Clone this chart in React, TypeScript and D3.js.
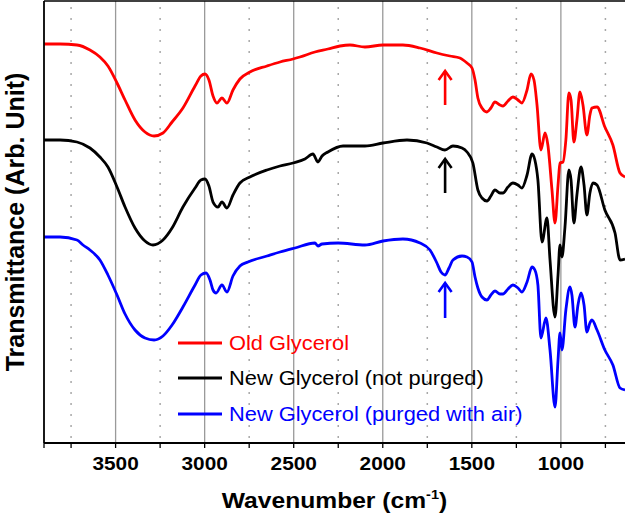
import React from "react";
import * as d3 from "d3";

// ---- data (wavenumber in cm-1, transmittance in arbitrary units) ----
const wnRed = [3902, 3812, 3717, 3644, 3588, 3543, 3492, 3447, 3391, 3335, 3284, 3234, 3183, 3122, 3054, 3021, 2998, 2976, 2953, 2931, 2903, 2875, 2841, 2802, 2746, 2650, 2577, 2504, 2465, 2381, 2308, 2240, 2184, 2100, 1999, 1887, 1791, 1696, 1623, 1567, 1527, 1499, 1482, 1466, 1443, 1415, 1393, 1370, 1342, 1325, 1297, 1269, 1241, 1219, 1190, 1168, 1151, 1134, 1112, 1089, 1073, 1050, 1033, 1016, 1005, 988, 972, 955, 943, 927, 910, 893, 876, 854, 837, 826, 797, 753, 708, 668, 640];
const tRed = [399, 399, 398, 393, 386, 377, 360, 343, 323, 311, 307, 310, 321, 335, 357, 367, 369, 363, 347, 340, 345, 340, 353, 364, 371, 377, 381, 384, 386, 391, 394, 397, 398, 396, 398, 398, 395, 390, 387, 385, 380, 375, 363, 345, 335, 331, 335, 341, 338, 337, 342, 346, 343, 340, 353, 369, 363, 338, 293, 310, 298, 253, 220, 258, 280, 281, 303, 350, 343, 301, 323, 351, 338, 308, 328, 335, 336, 316, 298, 270, 266];

const wnBlack = [3902, 3812, 3717, 3644, 3588, 3543, 3492, 3447, 3391, 3335, 3290, 3234, 3183, 3122, 3054, 3021, 2998, 2976, 2953, 2925, 2903, 2875, 2841, 2802, 2746, 2650, 2577, 2504, 2437, 2392, 2364, 2341, 2308, 2223, 2100, 1999, 1864, 1752, 1696, 1651, 1606, 1555, 1527, 1494, 1466, 1443, 1415, 1393, 1370, 1342, 1325, 1297, 1269, 1241, 1219, 1190, 1162, 1146, 1129, 1106, 1078, 1061, 1033, 1016, 1005, 994, 977, 955, 943, 927, 910, 887, 870, 854, 837, 820, 797, 753, 696, 668, 640];
const tBlack = [303, 303, 301, 295, 286, 276, 256, 236, 215, 202, 198, 203, 215, 236, 255, 263, 264, 257, 241, 236, 241, 235, 248, 260, 266, 273, 277, 280, 284, 289, 281, 287, 291, 297, 297, 300, 303, 300, 296, 293, 297, 295, 291, 280, 253, 245, 242, 247, 253, 250, 250, 256, 260, 258, 255, 268, 289, 283, 263, 201, 225, 183, 126, 168, 198, 186, 216, 273, 263, 220, 248, 276, 258, 228, 250, 260, 258, 233, 210, 183, 184];

const wnBlue = [3902, 3812, 3717, 3683, 3644, 3588, 3543, 3492, 3447, 3391, 3335, 3284, 3234, 3183, 3122, 3054, 3021, 2992, 2970, 2953, 2936, 2903, 2875, 2841, 2802, 2757, 2650, 2577, 2493, 2381, 2364, 2341, 2251, 2100, 1999, 1887, 1791, 1735, 1696, 1673, 1651, 1628, 1606, 1555, 1527, 1499, 1482, 1466, 1443, 1415, 1393, 1370, 1342, 1325, 1297, 1269, 1241, 1219, 1190, 1162, 1146, 1129, 1112, 1084, 1061, 1033, 1016, 1005, 994, 972, 949, 938, 921, 904, 887, 870, 854, 837, 826, 797, 753, 708, 668, 640];
const tBlue = [206, 206, 203, 198, 193, 183, 168, 148, 129, 113, 105, 103, 107, 118, 136, 158, 168, 170, 163, 153, 150, 158, 151, 167, 177, 181, 187, 191, 195, 200, 197, 199, 200, 198, 202, 204, 200, 193, 180, 171, 168, 175, 183, 187, 186, 181, 166, 155, 146, 143, 148, 152, 149, 149, 154, 158, 155, 151, 161, 176, 173, 158, 105, 125, 93, 36, 83, 110, 93, 133, 156, 148, 116, 138, 150, 138, 111, 120, 123, 113, 93, 78, 55, 53];

const seriesNames = ["Old Glycerol", "New Glycerol (not purged)", "New Glycerol (purged with air)"];
const seriesColors = ["#ff0000", "#000000", "#0000ff"];

// arrows marking the ~1650 cm-1 band: [wavenumber, tail value, head value]
const arrowWn = [1650, 1650, 1650];
const arrowFrom = [338, 250, 125];
const arrowTo = [373, 285, 161];

const majorTicks = [3500, 3000, 2500, 2000, 1500, 1000];
const minorTicks = [3750, 3250, 2750, 2250, 1750, 1250, 750];

const W = 625;
const H = 514;
const plot = { left: 44, right: 625, top: 1, bottom: 443 };
const FONT = "'Liberation Sans', Arial, Helvetica, sans-serif";
const SX = 1.12; // horizontal stretch of the reference's text

export default function App() {
  const x = d3.scaleLinear().domain([3902, 640]).range([plot.left, plot.right]);
  const y = d3.scaleLinear().domain([0, 442]).range([plot.bottom, plot.top]);

  const series = [
    { wn: wnRed, t: tRed },
    { wn: wnBlack, t: tBlack },
    { wn: wnBlue, t: tBlue },
  ];

  const line = d3
    .line<[number, number]>()
    .x((d) => x(d[0]))
    .y((d) => y(d[1]))
    .curve(d3.curveMonotoneX);

  const allTicks = [...majorTicks, ...minorTicks].concat([3902]);

  const legendY = [343, 378, 414];

  return (
    <svg
      width={W}
      height={H}
      viewBox={`0 0 ${W} ${H}`}
      style={{ position: "absolute", left: 0, top: 0, background: "#fff" }}
    >
      <rect x={0} y={0} width={W} height={H} fill="#fff" />
      <defs>
        <clipPath id="plotclip">
          <rect x={plot.left} y={plot.top} width={plot.right - plot.left} height={plot.bottom - plot.top} />
        </clipPath>
      </defs>

      {/* gridlines */}
      {majorTicks.map((t) => (
        <line key={"g" + t} x1={x(t)} x2={x(t)} y1={plot.top} y2={plot.bottom} stroke="#9a9a9a" strokeWidth={1.3} />
      ))}
      {minorTicks.map((t) => (
        <line
          key={"m" + t}
          x1={x(t)}
          x2={x(t)}
          y1={plot.top + 6}
          y2={plot.bottom}
          stroke="#a8a8a8"
          strokeWidth={1.5}
          strokeDasharray="2,9"
        />
      ))}

      {/* spectra */}
      <g clipPath="url(#plotclip)">
        {series.map((s, i) => (
          <path
            key={i}
            d={line(s.wn.map((w, j) => [w, s.t[j]] as [number, number])) || ""}
            fill="none"
            stroke={seriesColors[i]}
            strokeWidth={2.8}
            strokeLinejoin="round"
          />
        ))}
      </g>

      {/* arrows */}
      {arrowWn.map((w, i) => {
        const ax = x(w);
        const y0 = y(arrowFrom[i]);
        const y1 = y(arrowTo[i]);
        return (
          <g key={"a" + i} stroke={seriesColors[i]} strokeWidth={2.6} fill="none">
            <line x1={ax} x2={ax} y1={y0} y2={y1 + 1} />
            <polyline points={`${ax - 6.5},${y1 + 10} ${ax},${y1 + 1} ${ax + 6.5},${y1 + 10}`} />
          </g>
        );
      })}

      {/* frame */}
      <line x1={plot.left} x2={plot.right} y1={plot.top} y2={plot.top} stroke="#000" strokeWidth={1.6} />
      <line x1={plot.left} x2={plot.left} y1={plot.top} y2={plot.bottom} stroke="#000" strokeWidth={1.8} />
      <line x1={plot.left} x2={plot.right} y1={plot.bottom} y2={plot.bottom} stroke="#000" strokeWidth={1.8} />

      {/* x ticks */}
      {allTicks.map((t) => (
        <line key={"t" + t} x1={x(t)} x2={x(t)} y1={plot.bottom} y2={plot.bottom + 5} stroke="#000" strokeWidth={1.3} />
      ))}
      {majorTicks.map((t) => (
        <text
          key={"l" + t}
          transform={`translate(${x(t)},470) scale(${SX},1)`}
          textAnchor="middle"
          fontFamily={FONT}
          fontWeight="bold"
          fontSize={18.6}
          fill="#000"
        >
          {t}
        </text>
      ))}

      {/* axis titles */}
      <text
        transform={`translate(${(plot.left + plot.right) / 2},508) scale(${SX},1)`}
        textAnchor="middle"
        fontFamily={FONT}
        fontWeight="bold"
        fontSize={22}
        fill="#000"
      >
        Wavenumber (cm
        <tspan fontSize={13} dy={-9}>-1</tspan>
        <tspan dy={9}>)</tspan>
      </text>
      <text
        transform={`translate(24,${(plot.top + plot.bottom) / 2}) rotate(-90)`}
        textAnchor="middle"
        fontFamily={FONT}
        fontWeight="bold"
        fontSize={25}
        fill="#000"
      >
        Transmittance (Arb. Unit)
      </text>

      {/* legend */}
      {seriesNames.map((n, i) => (
        <g key={"lg" + i}>
          <line x1={178} x2={222} y1={legendY[i]} y2={legendY[i]} stroke={seriesColors[i]} strokeWidth={3} />
          <text
            transform={`translate(229,${legendY[i] + 7}) scale(${SX},1)`}
            fontFamily={FONT}
            fontSize={19.5}
            fill={seriesColors[i]}
          >
            {n}
          </text>
        </g>
      ))}
    </svg>
  );
}
